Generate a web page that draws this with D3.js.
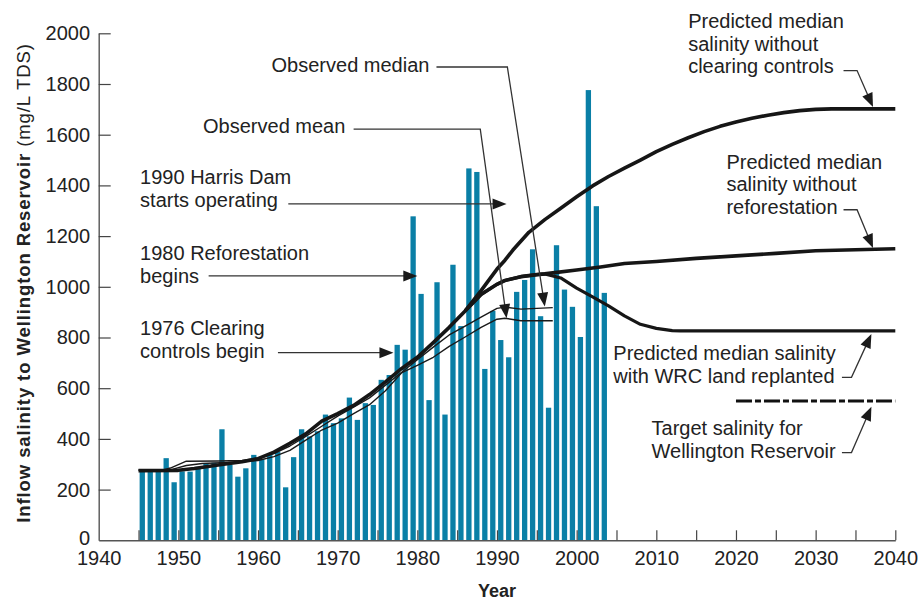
<!DOCTYPE html>
<html><head><meta charset="utf-8">
<script src="https://cdn.jsdelivr.net/npm/d3@7"></script>
<style>
body{margin:0;background:#fff;}
svg{display:block;font-family:"Liberation Sans", Arial, Helvetica, sans-serif;}
</style></head><body>
<svg id="chart" width="921" height="601"></svg>
<script>
// ---------- data ----------
const years = [1945,1946,1947,1948,1949,1950,1951,1952,1953,1954,1955,1956,1957,1958,1959,
  1960,1961,1962,1963,1964,1965,1966,1967,1968,1969,1970,1971,1972,1973,1974,1975,1976,1977,
  1978,1979,1980,1981,1982,1983,1984,1985,1986,1987,1988,1989,1990,1991,1992,1993,1994,1995,
  1996,1997,1998,1999,2000,2001,2002,2003];
const inflow = [277,275,275,324,229,272,271,290,304,306,438,297,251,284,337,
  320,343,350,209,328,438,410,430,496,462,481,563,475,541,534,633,652,771,
  752,1278,972,553,1018,496,1087,845,1467,1453,676,905,790,722,980,1027,1148,884,
  523,1164,989,921,802,1776,1318,976];

const observedMedian = [[1945,277],[1948,277],[1949,285],[1951,312],[1955,313],[1958,315],[1960,325],
  [1962,342],[1964,372],[1966,410],[1968,450],[1970,490],[1972,525],[1974,562],[1976,612],[1978,662],
  [1980,712],[1982,762],[1984,810],[1986,845],[1988,880],[1990,915],[1991,920],[1993,912],[1995,915],[1997,918]];
const observedMean = [[1945,277],[1949,278],[1951,295],[1953,303],[1956,307],[1958,310],[1960,315],
  [1962,330],[1964,355],[1966,395],[1968,435],[1970,462],[1972,500],[1974,535],[1976,590],[1978,660],
  [1980,690],[1982,722],[1984,765],[1986,802],[1988,840],[1990,872],[1991,876],[1993,866],[1997,866]];

const predCommon = [[1945,275],[1950,276],[1952,283],[1955,297],[1958,310],[1960,322],[1962,348],
  [1964,383],[1966,420],[1968,470],[1970,500],[1972,532],[1974,575],[1976,625],[1978,677],[1980,722],
  [1982,780],[1984,840],[1986,905]];
const predNoClearingControls = [[1988,985],[1990,1070],[1991,1105],[1992,1145],[1994,1215],[1996,1265],
  [1998,1310],[2000,1355],[2002,1398],[2004,1435],[2006,1468],[2008,1500],[2010,1533],[2012,1562],
  [2014,1588],[2016,1612],[2018,1633],[2020,1650],[2022,1665],[2024,1677],[2026,1687],[2028,1695],
  [2030,1700],[2032,1702],[2040,1702]];
const predNoReforestation = [[1988,970],[1990,1010],[1991,1025],[1993,1040],[1995,1048],[1996,1051],
  [1997,1055],[2000,1066],[2003,1078],[2006,1092],[2010,1100],[2015,1112],[2020,1122],[2025,1132],
  [2030,1142],[2035,1146],[2040,1150]];
const predReplanted = [[1988,970],[1990,1010],[1991,1025],[1993,1040],[1995,1048],[1996,1051],
  [1998,1035],[2000,995],[2002,960],[2004,925],[2006,885],[2008,852],[2010,836],[2012,827],[2013,826],[2040,826]];
const targetSalinity = [[2020,550],[2040,550]];

const xTickValues = [1940,1945,1950,1955,1960,1965,1970,1975,1980,1985,1990,1995,2000,2005,2010,2015,2020,2025,2030,2035,2040];
const yTickValues = [0,200,400,600,800,1000,1200,1400,1600,1800,2000];

// annotations: text anchor (year,value), leader path points (year,value), last point = arrow tip
const annotations = [
  {lines:["Predicted median","salinity without","clearing controls"], at:[2014.0,2021],
   path:[[2033.5,1853],[2035.2,1853],[2037.2,1709]]},
  {lines:["Predicted median","salinity without","reforestation"], at:[2018.8,1466],
   path:[[2033.5,1304],[2035.2,1304],[2037.2,1153]]},
  {lines:["Predicted median salinity","with WRC land replanted"], at:[2004.6,712],
   path:[[2033.3,643],[2034.5,643],[2037.0,814]]},
  {lines:["Target salinity for","Wellington Reservoir"], at:[2009.4,416],
   path:[[2033.3,346],[2034.5,346],[2037.0,527]]},
  {lines:["Observed median"], at:[1961.7,1847],
   path:[[1982.4,1867],[1991.3,1867],[1996.0,922]]},
  {lines:["Observed mean"], at:[1953.1,1607],
   path:[[1972.0,1622],[1987.9,1622],[1991.2,876]]},
  {lines:["1990 Harris Dam","starts operating"], at:[1945.2,1406],
   path:[[1963.8,1327],[1991.2,1327]]},
  {lines:["1980 Reforestation","begins"], at:[1945.2,1106],
   path:[[1953.8,1043],[1980.0,1043]]},
  {lines:["1976 Clearing","controls begin"], at:[1945.2,810],
   path:[[1962.5,740],[1977.0,740]]}
];

// ---------- chart ----------
const svg = d3.select("#chart");
const x = d3.scaleLinear().domain([1940, 2040]).range([98.7, 895.3]);
const y = d3.scaleLinear().domain([0, 2000]).range([540.3, 33.3]);

// bars
svg.append("g").selectAll("rect").data(years).join("rect")
  .attr("x", d => x(d) + 1.1)
  .attr("width", 5.3)
  .attr("y", (d, i) => y(inflow[i]))
  .attr("height", (d, i) => y(0) - y(inflow[i]))
  .attr("fill", "#0a7fa6");

// axes
const xAxis = d3.axisBottom(x).tickValues(xTickValues)
  .tickFormat(d => d % 10 === 0 ? String(d) : "")
  .tickSizeInner(-10).tickSizeOuter(0).tickPadding(10.5);
const gx = svg.append("g").attr("transform", `translate(0,${y(0)})`).call(xAxis);
const yAxis = d3.axisLeft(y).tickValues(yTickValues).tickFormat(d3.format("d"))
  .tickSizeInner(-12).tickSizeOuter(0).tickPadding(8.7);
const gy = svg.append("g").attr("transform", `translate(${x(1940)},0)`).call(yAxis);
[gx, gy].forEach(g => {
  g.select(".domain").attr("stroke", "#555").attr("stroke-width", 1.4);
  g.selectAll(".tick line").attr("stroke", "#444").attr("stroke-width", 1.2);
  g.selectAll(".tick text").attr("fill", "#222").attr("font-size", 20)
   .attr("font-family", '"Liberation Sans", Arial, sans-serif');
});
gx.selectAll(".tick").filter(d => d === 1940).select("line").remove();
gy.selectAll(".tick").filter(d => d === 0).select("line").remove();
gy.selectAll(".tick").filter(d => d === 0).select("text").attr("dy", "0.2em");

// lines
const line = d3.line().x(d => x(d[0])).y(d => y(d[1]));
const lg = svg.append("g").attr("fill", "none").attr("stroke-linejoin", "round").attr("stroke-linecap", "butt");
lg.append("path").attr("d", line(observedMean)).attr("stroke", "#1a1a1a").attr("stroke-width", 1.4);
lg.append("path").attr("d", line(observedMedian)).attr("stroke", "#1a1a1a").attr("stroke-width", 1.4);
const last = predCommon.slice(-1);
lg.append("path").attr("d", line(predCommon.concat(predNoClearingControls))).attr("stroke", "#161616").attr("stroke-width", 3.6);
lg.append("path").attr("d", line(last.concat(predNoReforestation))).attr("stroke", "#161616").attr("stroke-width", 3.6);
lg.append("path").attr("d", line(last.concat(predReplanted))).attr("stroke", "#161616").attr("stroke-width", 3.2);
lg.append("path").attr("d", line(targetSalinity)).attr("stroke", "#111").attr("stroke-width", 3)
  .attr("stroke-dasharray", "16,3,6,3");

// annotations
const ag = svg.append("g");
annotations.forEach(a => {
  const t = ag.append("text").attr("x", x(a.at[0])).attr("y", y(a.at[1]))
    .attr("font-size", 20).attr("fill", "#222");
  a.lines.forEach((s, i) => t.append("tspan").attr("x", x(a.at[0])).attr("dy", i === 0 ? 0 : 22.7).text(s));
  const pts = a.path.map(p => [x(p[0]), y(p[1])]);
  const tip = pts[pts.length - 1], prev = pts[pts.length - 2];
  const dx = tip[0] - prev[0], dy = tip[1] - prev[1];
  const len = Math.hypot(dx, dy), ux = dx / len, uy = dy / len;
  const L = 14, W = 5.5;
  const base = [tip[0] - ux * L, tip[1] - uy * L];
  const linePts = pts.slice(0, -1).concat([[tip[0] - ux * (L - 2), tip[1] - uy * (L - 2)]]);
  ag.append("path").attr("d", d3.line()(linePts)).attr("fill", "none")
    .attr("stroke", "#333").attr("stroke-width", 1.3);
  ag.append("path").attr("d", `M${tip[0]},${tip[1]}L${base[0] - uy * W},${base[1] + ux * W}L${base[0] + uy * W},${base[1] - ux * W}Z`)
    .attr("fill", "#1a1a1a");
});

// axis titles
svg.append("text").attr("x", x(1990)).attr("y", 597).attr("text-anchor", "middle")
  .attr("font-size", 18).attr("font-weight", "bold").attr("fill", "#222").text("Year");
const yt = svg.append("text").attr("transform", "translate(30,283) rotate(-90)")
  .attr("text-anchor", "middle").attr("font-size", 18.5).attr("letter-spacing", 0.9).attr("fill", "#222");
yt.append("tspan").attr("font-weight", "bold").text("Inflow salinity to Wellington Reservoir ");
yt.append("tspan").text("(mg/L TDS)");
</script>
</body></html>
